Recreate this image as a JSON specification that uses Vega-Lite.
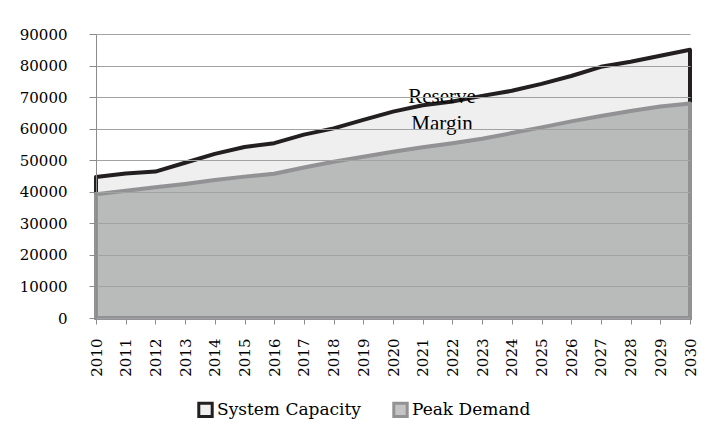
{
  "$schema": "https://vega.github.io/schema/vega-lite/v6.json",
  "width": 594,
  "height": 284,
  "autosize": {"type": "none"},
  "padding": {"left": 96, "top": 34, "right": 18, "bottom": 124},
  "background": "white",
  "config": {
    "view": {"stroke": null},
    "font": "DejaVu Serif"
  },
  "datasets": {
    "d": [
      {"year": 2010, "series": "System Capacity", "value": 44700},
      {"year": 2011, "series": "System Capacity", "value": 45800},
      {"year": 2012, "series": "System Capacity", "value": 46400},
      {"year": 2013, "series": "System Capacity", "value": 49200},
      {"year": 2014, "series": "System Capacity", "value": 52000},
      {"year": 2015, "series": "System Capacity", "value": 54200},
      {"year": 2016, "series": "System Capacity", "value": 55400},
      {"year": 2017, "series": "System Capacity", "value": 58100},
      {"year": 2018, "series": "System Capacity", "value": 60100},
      {"year": 2019, "series": "System Capacity", "value": 62800},
      {"year": 2020, "series": "System Capacity", "value": 65400},
      {"year": 2021, "series": "System Capacity", "value": 67400},
      {"year": 2022, "series": "System Capacity", "value": 68600},
      {"year": 2023, "series": "System Capacity", "value": 70400},
      {"year": 2024, "series": "System Capacity", "value": 72000},
      {"year": 2025, "series": "System Capacity", "value": 74200},
      {"year": 2026, "series": "System Capacity", "value": 76700},
      {"year": 2027, "series": "System Capacity", "value": 79600},
      {"year": 2028, "series": "System Capacity", "value": 81200},
      {"year": 2029, "series": "System Capacity", "value": 83100},
      {"year": 2030, "series": "System Capacity", "value": 85000},
      {"year": 2010, "series": "Peak Demand", "value": 39200},
      {"year": 2011, "series": "Peak Demand", "value": 40300},
      {"year": 2012, "series": "Peak Demand", "value": 41400},
      {"year": 2013, "series": "Peak Demand", "value": 42500},
      {"year": 2014, "series": "Peak Demand", "value": 43700},
      {"year": 2015, "series": "Peak Demand", "value": 44800},
      {"year": 2016, "series": "Peak Demand", "value": 45700},
      {"year": 2017, "series": "Peak Demand", "value": 47700},
      {"year": 2018, "series": "Peak Demand", "value": 49500},
      {"year": 2019, "series": "Peak Demand", "value": 51100},
      {"year": 2020, "series": "Peak Demand", "value": 52700},
      {"year": 2021, "series": "Peak Demand", "value": 54100},
      {"year": 2022, "series": "Peak Demand", "value": 55400},
      {"year": 2023, "series": "Peak Demand", "value": 56800},
      {"year": 2024, "series": "Peak Demand", "value": 58600},
      {"year": 2025, "series": "Peak Demand", "value": 60400},
      {"year": 2026, "series": "Peak Demand", "value": 62300},
      {"year": 2027, "series": "Peak Demand", "value": 64000},
      {"year": 2028, "series": "Peak Demand", "value": 65600},
      {"year": 2029, "series": "Peak Demand", "value": 67000},
      {"year": 2030, "series": "Peak Demand", "value": 68000}
    ]
  },
  "resolve": {"axis": {"x": "independent", "y": "independent"}},
  "layer": [
    {
      "data": {"name": "d"},
      "transform": [{"filter": "datum.series === 'System Capacity'"}],
      "mark": {"type": "area", "strokeWidth": 4, "strokeJoin": "round"},
      "encoding": {
        "x": {
          "field": "year", "type": "quantitative",
          "scale": {"domain": [2010, 2030], "nice": false, "zero": false},
          "axis": {
            "title": null, "values": [2010,2011,2012,2013,2014,2015,2016,2017,2018,2019,2020,2021,2022,2023,2024,2025,2026,2027,2028,2029,2030],
            "format": "d", "labelAngle": -90, "labelFontSize": 15, "labelColor": "#000000",
            "labelFont": "DejaVu Serif", "tickSize": 6, "tickColor": "#8c8c8c", "domainColor": "#8c8c8c",
            "labelPadding": 14, "grid": false, "labelOverlap": false, "labelFlush": false
          }
        },
        "y": {
          "field": "value", "type": "quantitative",
          "scale": {"domain": [0, 90000], "nice": false},
          "axis": {
            "title": null, "values": [0,10000,20000,30000,40000,50000,60000,70000,80000,90000],
            "format": "d", "labelFontSize": 15, "labelColor": "#000000", "labelFont": "DejaVu Serif",
            "tickSize": 7, "tickColor": "#8c8c8c", "domainColor": "#8c8c8c", "labelPadding": 22,
            "grid": true, "gridColor": "#a2a2a2", "gridWidth": 1, "zindex": 1
          }
        },
        "fill": {
          "field": "series", "type": "nominal",
          "scale": {"domain": ["System Capacity", "Peak Demand"], "range": ["#efefef", "#c4c4c4"]},
          "legend": {
            "orient": "none", "legendX": 101, "legendY": 367, "direction": "horizontal",
            "title": null, "symbolType": "square", "symbolSize": 180, "symbolStrokeWidth": 3,
            "labelFontSize": 17, "labelFont": "DejaVu Serif", "labelColor": "#000000",
            "labelOffset": 3, "columnPadding": 26, "padding": 0, "labelLimit": 300
          }
        },
        "stroke": {
          "field": "series", "type": "nominal",
          "scale": {"domain": ["System Capacity", "Peak Demand"], "range": ["#231f20", "#929194"]},
          "legend": null
        }
      }
    },
    {
      "data": {"name": "d"},
      "transform": [{"filter": "datum.series === 'Peak Demand'"}],
      "mark": {"type": "area", "strokeWidth": 4, "strokeJoin": "round", "fill": "#b9baba"},
      "encoding": {
        "x": {"field": "year", "type": "quantitative", "axis": null},
        "y": {"field": "value", "type": "quantitative", "axis": null},
        "stroke": {"field": "series", "type": "nominal", "legend": null}
      }
    },
    {
      "data": {"values": [{"note": "Reserve Margin"}]},
      "mark": {"type": "text", "text": ["Reserve", "Margin"], "fontSize": 21, "lineHeight": 27,
               "font": "'Liberation Serif', 'DejaVu Serif', serif", "color": "#000000", "align": "center", "baseline": "middle"},
      "encoding": {
        "x": {"datum": 2021.65, "type": "quantitative", "axis": null},
        "y": {"datum": 70000, "type": "quantitative", "axis": null}
      }
    }
  ]
}
